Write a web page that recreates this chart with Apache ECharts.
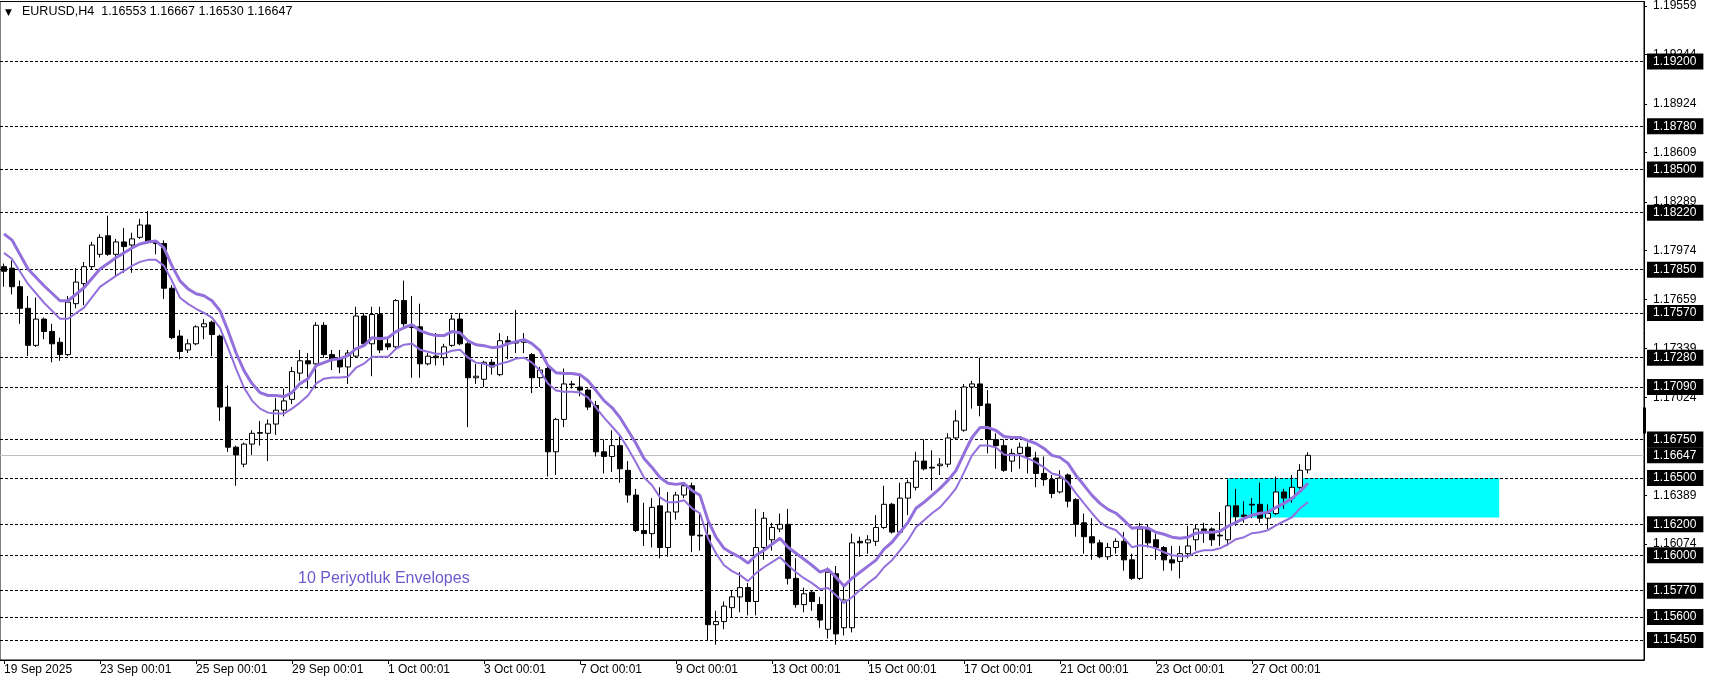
<!DOCTYPE html>
<html><head><meta charset="utf-8">
<script src="https://cdn.jsdelivr.net/npm/echarts@6/dist/echarts.min.js"></script>
<style>html,body{margin:0;padding:0;background:#fff;}#c{width:1709px;height:684px;}</style>
</head><body><div id="c"></div>
<script>
// ---- data ----
const symbolName = 'EURUSD,H4';
const timeLabels = ['19 Sep 2025','23 Sep 00:01','25 Sep 00:01','29 Sep 00:01','1 Oct 00:01','3 Oct 00:01','7 Oct 00:01','9 Oct 00:01','13 Oct 00:01','15 Oct 00:01','17 Oct 00:01','21 Oct 00:01','23 Oct 00:01','27 Oct 00:01'];
const timeLabelBars = [0,12,24,36,48,60,72,84,96,108,120,132,144,156];
const priceTicks = [1.19559,1.19244,1.18924,1.18609,1.18289,1.17974,1.17659,1.17339,1.17024,1.16389,1.16074];
const levelLines = [1.1920,1.1878,1.1850,1.1822,1.1785,1.1757,1.1728,1.1709,1.1675,1.1650,1.1620,1.1600,1.1577,1.1560,1.1545];
const lastPrice = 1.16647;
const zoneBox = {fromBar:152.9, toBar:186.9, top:1.1650, bottom:1.16245};
const axisMarker = [1.16957, 1.16789];
const envelopeLabel = '10 Periyotluk Envelopes';
// [open, close, low, high]
const candles = [
[1.1787,1.1784,1.1774,1.1789],[1.1786,1.1774,1.1769,1.1791],[1.1774,1.1760,1.1750,1.1778],[1.1760,1.1736,1.1729,1.1768],
[1.1736,1.1753,1.1735,1.1767],[1.1753,1.1745,1.1740,1.1754],[1.1745,1.1737,1.1725,1.1750],[1.1738,1.1730,1.1726,1.1741],
[1.1730,1.1764,1.1729,1.1768],[1.1763,1.1777,1.1760,1.1786],[1.1776,1.1787,1.1762,1.1790],[1.1787,1.1801,1.1785,1.1803],
[1.1795,1.1806,1.1793,1.1808],[1.1807,1.1795,1.1794,1.1820],[1.1795,1.1803,1.1781,1.1805],[1.1803,1.1800,1.1783,1.1812],
[1.1801,1.1805,1.1783,1.1809],[1.1806,1.1814,1.1805,1.1818],[1.1814,1.1803,1.1802,1.1823],[1.1803,1.1802,1.1795,1.1804],
[1.1802,1.1773,1.1766,1.1804],[1.1773,1.1741,1.1740,1.1775],[1.1742,1.1732,1.1727,1.1746],[1.1733,1.1737,1.1731,1.1740],
[1.1737,1.1748,1.1736,1.1749],[1.1748,1.1750,1.1740,1.1753],[1.1751,1.1743,1.1729,1.1752],[1.1742,1.1696,1.1687,1.1743],
[1.1696,1.1670,1.1667,1.1710],[1.1670,1.1665,1.1645,1.1671],[1.1659,1.1672,1.1657,1.1673],[1.1672,1.1679,1.1665,1.1681],
[1.1679,1.16795,1.1671,1.1687],[1.1679,1.1685,1.1661,1.1688],[1.1685,1.1694,1.1678,1.1702],[1.1694,1.1700,1.1690,1.1708],
[1.1701,1.1719,1.1698,1.1722],[1.1718,1.1726,1.1713,1.1733],[1.1726,1.1724,1.1708,1.1731],[1.1724,1.1749,1.1708,1.1751],
[1.1749,1.1730,1.1728,1.1751],[1.1730,1.1727,1.1720,1.1733],[1.1727,1.1722,1.1718,1.1733],[1.1722,1.1731,1.1711,1.1733],
[1.1729,1.1755,1.1728,1.1761],[1.1755,1.1737,1.1736,1.1757],[1.1737,1.1756,1.1716,1.1761],[1.1756,1.1733,1.1731,1.1761],
[1.1737,1.1735,1.1733,1.1741],[1.1735,1.1765,1.1734,1.1766],[1.1765,1.1750,1.1748,1.1778],[1.1748,1.17475,1.1715,1.1768],
[1.1748,1.1724,1.1715,1.1763],[1.1724,1.1729,1.1723,1.1731],[1.1729,1.1728,1.1723,1.1744],[1.1728,1.1735,1.1723,1.1737],
[1.1736,1.1753,1.1735,1.1756],[1.1753,1.1737,1.1736,1.1757],[1.1737,1.1715,1.1683,1.1738],[1.1715,1.1716,1.1711,1.1724],
[1.1714,1.1725,1.1709,1.1726],[1.1725,1.1722,1.1717,1.1727],[1.1717,1.1739,1.1716,1.1744],[1.1739,1.1738,1.1727,1.1742],
[1.1738,1.17375,1.1731,1.1759],[1.1738,1.1739,1.1731,1.1744],[1.1730,1.1715,1.1705,1.1731],[1.1715,1.1720,1.1709,1.1722],
[1.1721,1.1667,1.1651,1.1722],[1.1667,1.1688,1.1652,1.1689],[1.1688,1.1711,1.1683,1.1721],[1.1711,1.17105,1.1708,1.1713],
[1.1709,1.1707,1.1703,1.1716],[1.1707,1.1696,1.1694,1.1708],[1.1697,1.1667,1.1664,1.1700],[1.1667,1.1664,1.1653,1.1675],
[1.1664,1.1671,1.1654,1.1681],[1.1671,1.1656,1.1647,1.1677],[1.1655,1.1639,1.1634,1.1661],[1.1639,1.1616,1.1615,1.1643],
[1.1616,1.1614,1.1606,1.1634],[1.1614,1.1631,1.1605,1.1637],[1.1632,1.1605,1.1598,1.1644],[1.1605,1.1628,1.1599,1.1641],
[1.1628,1.1639,1.1623,1.1641],[1.1639,1.1645,1.1637,1.1647],[1.1645,1.1613,1.1602,1.1647],[1.1613,1.16125,1.1603,1.1627],
[1.1613,1.1555,1.1545,1.1623],[1.1555,1.1557,1.1542,1.1564],[1.1557,1.1567,1.1552,1.1570],[1.1566,1.1573,1.1560,1.1577],
[1.1573,1.1579,1.1563,1.1589],[1.1579,1.1570,1.1561,1.1582],[1.1570,1.1605,1.1561,1.1630],[1.1605,1.1624,1.1597,1.1628],
[1.1610,1.1618,1.1603,1.1621],[1.1617,1.1620,1.1615,1.1627],[1.1620,1.1585,1.1581,1.1630],[1.1585,1.1568,1.1566,1.1598],
[1.1568,1.1575,1.1563,1.1579],[1.1576,1.1570,1.1564,1.1577],[1.1568,1.1558,1.1553,1.1573],[1.1552,1.1589,1.1546,1.1592],
[1.1588,1.1549,1.1542,1.1593],[1.1553,1.1571,1.1548,1.1581],[1.1553,1.1608,1.1550,1.1614],[1.1609,1.1608,1.1599,1.1612],
[1.1608,1.1610,1.1601,1.1613],[1.1609,1.1618,1.1606,1.1626],[1.1618,1.1633,1.1617,1.1645],[1.1633,1.1615,1.1614,1.1634],
[1.1615,1.1637,1.1614,1.1647],[1.1637,1.1647,1.1626,1.1649],[1.1644,1.1661,1.1642,1.1667],[1.1661,1.1656,1.1655,1.1675],
[1.1657,1.16565,1.1642,1.1668],[1.1658,1.1659,1.1652,1.1663],[1.1659,1.1676,1.1657,1.1679],[1.1676,1.1687,1.1675,1.1694],
[1.1681,1.1709,1.1680,1.1711],[1.1709,1.1711,1.1695,1.1713],[1.1711,1.1697,1.1690,1.1728],[1.1698,1.1675,1.1666,1.1707],
[1.1675,1.1671,1.1656,1.1679],[1.1671,1.1655,1.1654,1.1675],[1.1661,1.1666,1.1654,1.1669],[1.1666,1.1670,1.1656,1.1673],
[1.1670,1.1664,1.1653,1.1673],[1.1663,1.1653,1.1644,1.1667],[1.1653,1.1649,1.1645,1.1664],[1.1649,1.1640,1.1637,1.1652],
[1.1641,1.1650,1.1640,1.1655],[1.1652,1.1635,1.1631,1.1653],[1.1636,1.1620,1.1612,1.1637],[1.1621,1.1612,1.1601,1.1627],
[1.1612,1.1608,1.1597,1.1624],[1.1608,1.1599,1.1598,1.1610],[1.1599,1.1605,1.1597,1.1608],[1.1605,1.1609,1.1601,1.1611],
[1.1609,1.1597,1.1590,1.1615],[1.1597,1.1585,1.1584,1.1601],[1.1585,1.1617,1.1584,1.1621],[1.1617,1.1608,1.1605,1.1620],
[1.1610,1.1605,1.1597,1.1614],[1.1605,1.1597,1.1590,1.1606],[1.1597,1.1595,1.1590,1.1606],[1.1596,1.1601,1.1585,1.1606],
[1.1601,1.1606,1.1598,1.1619],[1.1610,1.1617,1.1603,1.1620],[1.1617,1.1616,1.1608,1.1621],[1.1617,1.1610,1.1606,1.1618],
[1.1613,1.16125,1.1606,1.1628],[1.1610,1.1632,1.1606,1.1649],[1.1632,1.1625,1.1619,1.1643],[1.1626,1.1625,1.1621,1.1635],
[1.1633,1.16325,1.1624,1.1637],[1.1633,1.1624,1.1621,1.1647],[1.1624,1.1627,1.1617,1.1633],[1.1627,1.1641,1.1626,1.1651],
[1.1641,1.1637,1.1630,1.1643],[1.1637,1.1644,1.1634,1.1652],[1.1644,1.1655,1.1643,1.1659],[1.16553,1.16647,1.16530,1.16667]
];
const upperBand = [
1.18082,1.18042,null,1.17855,null,1.17746,null,1.17649,1.17649,null,1.17733,null,1.17855,null,1.17927,null,
1.17991,1.18017,1.18030,1.18036,1.17991,1.17875,1.17778,1.17726,1.17694,1.17681,1.17649,1.17584,1.17455,1.17312,1.17196,1.17112,
1.17054,1.17035,1.17035,1.17028,1.17054,1.17112,1.17144,1.17228,1.17248,1.17267,1.17274,1.17293,1.17338,1.17358,1.17409,1.17403,
1.17409,1.17449,1.17474,1.17494,1.17455,1.17436,1.17423,1.17423,1.17449,1.17442,1.17390,1.17364,1.17358,1.17345,1.17351,1.17371,
1.17384,1.17397,1.17371,1.17325,1.17228,1.17183,1.17177,1.17177,1.17170,1.17131,1.17067,1.17002,1.16957,1.16892,1.16808,1.16724,
1.16627,1.16569,1.16504,1.16466,1.16459,1.16466,1.16420,1.16388,1.16226,1.16117,1.16045,1.16013,1.15987,1.15949,1.16000,1.16032,
1.16071,1.16110,1.16052,1.16013,1.15974,1.15935,1.15890,1.15909,1.15858,1.15800,1.15851,1.15890,1.15929,1.15968,1.16039,1.16084,
1.16149,1.16213,1.16304,1.16343,1.16388,1.16433,1.16485,1.16549,1.16659,1.16763,1.16827,1.16827,1.16808,1.16769,1.16763,1.16763,
1.16743,1.16724,1.16692,1.16647,1.16634,1.16595,1.16517,1.16453,1.16388,1.16336,1.16297,1.16272,1.16226,1.16175,1.16181,1.16175,
1.16149,1.16136,1.16117,1.16110,1.16117,1.16143,1.16149,1.16149,1.16155,1.16188,1.16213,1.16239,1.16259,1.16272,1.16278,1.16310,
1.16336,1.16369,1.16414,1.16466
];
const lowerBand = [
1.17959,1.17920,null,1.17758,null,1.17636,null,1.17532,1.17532,null,1.17604,null,1.17739,null,1.17810,null,
1.17875,1.17901,1.17914,1.17914,1.17875,1.17778,1.17668,1.17629,1.17597,1.17571,1.17539,1.17474,1.17345,1.17209,1.17086,1.17002,
1.16950,1.16924,1.16918,1.16918,1.16950,1.16989,1.17035,1.17112,1.17144,1.17151,1.17151,1.17157,1.17215,1.17241,1.17286,1.17286,
1.17286,1.17338,1.17364,1.17371,1.17332,1.17319,1.17306,1.17306,1.17325,1.17332,1.17280,1.17248,1.17241,1.17222,1.17241,1.17254,
1.17274,1.17280,1.17248,1.17196,1.17112,1.17067,1.17060,1.17060,1.17054,1.17021,1.16957,1.16892,1.16834,1.16776,1.16692,1.16601,
1.16504,1.16453,1.16375,1.16343,1.16343,1.16356,1.16304,1.16272,1.16110,1.16013,1.15935,1.15897,1.15871,1.15832,1.15884,1.15922,
1.15955,1.15987,1.15935,1.15890,1.15851,1.15819,1.15780,1.15787,1.15741,1.15690,1.15728,1.15774,1.15819,1.15858,1.15922,1.15968,
1.16032,1.16097,1.16181,1.16226,1.16272,1.16310,1.16369,1.16433,1.16537,1.16647,1.16711,1.16711,1.16698,1.16653,1.16647,1.16647,
1.16627,1.16601,1.16569,1.16530,1.16517,1.16472,1.16401,1.16336,1.16272,1.16213,1.16181,1.16162,1.16110,1.16052,1.16065,1.16058,
1.16045,1.16019,1.16000,1.15994,1.15994,1.16019,1.16032,1.16032,1.16045,1.16071,1.16104,1.16117,1.16143,1.16149,1.16162,1.16194,
1.16220,1.16246,1.16304,1.16343
];

// ---- chart ----
const FONT = '"Liberation Sans", Arial, sans-serif';
const ENV_COLOR = '#9370DB';
const chart = echarts.init(document.getElementById('c'), null, {renderer: 'canvas'});
const candleData = candles.map((c, i) => [i, c[0], c[1], c[2], c[3]]);
const toPairs = arr => arr.map((v, i) => v == null ? null : [i, v]).filter(p => p);
const last = candles[candles.length - 1];
const titleText = symbolName + '  ' + [last[0], last[3], last[2], last[1]].map(v => v.toFixed(5)).join(' ');

const boxLabel = {
  show: true, position: 'end', distance: 3,
  formatter: p => Number(p.value).toFixed(5),
  color: '#fff', backgroundColor: '#000', padding: [2, 7, 2, 6],
  fontSize: 12, fontFamily: FONT
};

const option = {
  animation: false,
  backgroundColor: '#fff',
  grid: {left: 0, top: 0, right: 65, bottom: 24, show: true, borderColor: '#000', borderWidth: 1},
  xAxis: {
    type: 'value', min: -0.5, max: 205,
    splitLine: {show: false},
    axisLine: {show: true, onZero: false, lineStyle: {color: '#000', width: 1}},
    axisTick: {show: true, customValues: timeLabelBars, length: 4, lineStyle: {color: '#000'}},
    axisLabel: {
      customValues: timeLabelBars, align: 'left', margin: 4,
      formatter: v => timeLabels[timeLabelBars.indexOf(Math.round(v))] || '',
      color: '#000', fontSize: 12, fontFamily: FONT
    }
  },
  yAxis: {
    type: 'value', position: 'right', min: 1.15321, max: 1.19588, scale: true,
    splitLine: {show: false},
    axisLine: {show: true, onZero: false, lineStyle: {color: '#000', width: 1}},
    axisTick: {show: true, customValues: priceTicks, length: 3, lineStyle: {color: '#000'}},
    axisLabel: {
      customValues: priceTicks, margin: 9,
      formatter: v => v.toFixed(5),
      color: '#000', fontSize: 12, fontFamily: FONT
    }
  },
  series: [
    {
      type: 'candlestick', name: 'EURUSD', z: 2,
      data: candleData,
      encode: {x: 0, y: [1, 2, 3, 4]},
      barWidth: 5,
      itemStyle: {color: '#ffffff', color0: '#000000', borderColor: '#000000', borderColor0: '#000000', borderWidth: 1},
      markArea: {
        z: 0.5, silent: true,
        itemStyle: {color: '#00FFFF', opacity: 1},
        data: [[{coord: [zoneBox.fromBar, zoneBox.top]}, {coord: [zoneBox.toBar, zoneBox.bottom]}]]
      },
      markLine: {
        z: 1, silent: true, symbol: ['none', 'none'], animation: false, precision: 6,
        lineStyle: {type: [3, 2], color: '#000', width: 1},
        label: boxLabel,
        data: levelLines.map(v => ({yAxis: v})).concat([
          {yAxis: lastPrice, lineStyle: {type: 'solid', color: '#c0c0c0', width: 1}}
        ])
      }
    },
    {
      type: 'line', name: 'Upper', z: 3, data: toPairs(upperBand), showSymbol: false, symbol: 'none',
      lineStyle: {color: ENV_COLOR, width: 3}, silent: true,
      markLine: {
        z: 2, silent: true, symbol: ['none', 'none'], precision: 6,
        lineStyle: {type: 'solid', color: '#000', width: 3}, label: {show: false},
        data: [[{coord: [205, axisMarker[0]]}, {coord: [205, axisMarker[1]]}]]
      }
    },
    {
      type: 'line', name: 'Lower', z: 3, data: toPairs(lowerBand), showSymbol: false, symbol: 'none',
      lineStyle: {color: ENV_COLOR, width: 2}, silent: true
    }
  ],
  graphic: [
    {type: 'text', left: 5, top: 8, style: {text: '▼', fontSize: 9, fill: '#000', fontFamily: '"DejaVu Sans", sans-serif'}},
    {type: 'text', left: 22, top: 5, style: {text: titleText, fontSize: 12.5, fill: '#000', fontFamily: FONT}},
    {type: 'text', left: 298, top: 571, style: {text: envelopeLabel, fontSize: 16, fill: '#6A5ACD', fontFamily: FONT}}
  ]
};
chart.setOption(option);
</script>
</body></html>
